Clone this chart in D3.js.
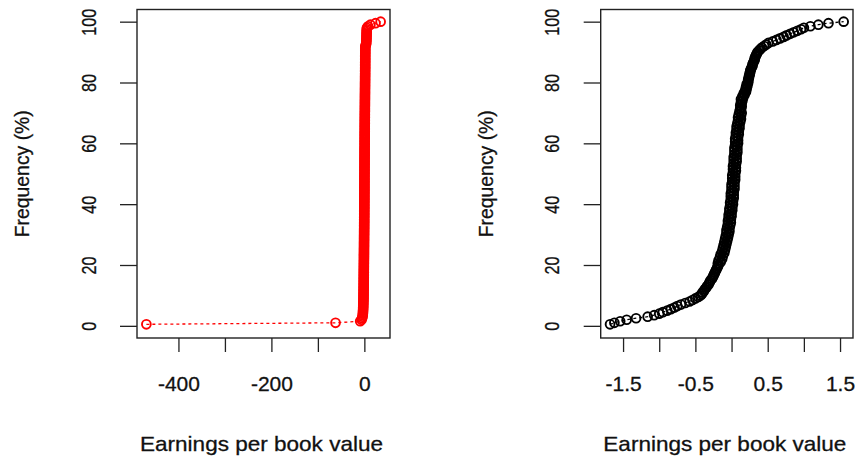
<!DOCTYPE html>
<html>
<head>
<meta charset="utf-8">
<script src="https://cdn.jsdelivr.net/npm/d3@7"></script>
<style>
body { margin: 0; background: #fff }
text { font-family: "Liberation Sans", Arial, sans-serif; fill: #111; stroke: #111; stroke-width: 0.3px }
</style>
</head>
<body>
<svg id="chart" width="855" height="459"></svg>
<script>
// earnings per book value, one value per 0.5 % of the sample
var leftValues = [
  -469, -62, -9, -6, -5, -4,
  -3.5, -3.2, -3.0, -2.8, -2.6, -2.5, -2.4, -2.3, -2.2, -2.1, -2.0, -1.9, -1.9, -1.8, -1.8, -1.7, -1.7, -1.6,
  -1.6, -1.5, -1.5, -1.5, -1.4, -1.4, -1.4, -1.3, -1.3, -1.3, -1.2, -1.2, -1.2, -1.1, -1.1, -1.1, -1.0, -1.0, -1.0, -0.9,
  -0.9, -0.9, -0.9, -0.8, -0.8, -0.8, -0.8, -0.7, -0.7, -0.7, -0.7, -0.6, -0.6, -0.6, -0.6, -0.5, -0.5, -0.5, -0.5, -0.4,
  -0.4, -0.4, -0.4, -0.3, -0.3, -0.3, -0.3, -0.2, -0.2, -0.2, -0.2, -0.2, -0.1, -0.1, -0.1, -0.1, -0.1, 0.0, 0.0, 0.0,
  0.0, 0.0, 0.0, 0.1, 0.1, 0.1, 0.1, 0.1, 0.1, 0.2, 0.2, 0.2, 0.2, 0.2, 0.2, 0.3, 0.3, 0.3, 0.3, 0.3,
  0.3, 0.4, 0.4, 0.4, 0.4, 0.4, 0.4, 0.5, 0.5, 0.5, 0.5, 0.5, 0.5, 0.6, 0.6, 0.6, 0.6, 0.6, 0.7, 0.7,
  0.7, 0.7, 0.7, 0.8, 0.8, 0.8, 0.8, 0.8, 0.9, 0.9, 0.9, 0.9, 1.0, 1.0, 1.0, 1.0, 1.1, 1.1, 1.1, 1.1,
  1.2, 1.2, 1.2, 1.2, 1.3, 1.3, 1.3, 1.3, 1.4, 1.4, 1.4, 1.4, 1.5, 1.5, 1.5, 1.5, 1.6, 1.6, 1.6, 1.6,
  1.7, 1.7, 1.7, 1.7, 1.8, 1.8, 1.8, 1.8, 1.8, 1.9, 1.9, 1.9, 1.9, 1.9, 2.0, 2.0, 2.0, 2.0, 2.1, 2.1,
  3.6, 4.0, 4.2, 4.4, 4.5, 4.6, 4.7, 4.8, 4.9, 5.0, 5.2, 5.6, 8, 13, 24, 35
]

// same for the trimmed sample; the wide middle of the band is read at both of its edges
var rightValues = [
  -1.68, -1.62, -1.54, -1.45, -1.32, -1.16, -1.07, -1.00, -0.95, -0.89, -0.84, -0.79, -0.75, -0.70, -0.64, -0.58, -0.54, -0.50, -0.46, -0.43,
  -0.41, -0.40, -0.38, -0.37, -0.35, -0.34, -0.32, -0.31, -0.30, -0.29, -0.27, -0.26, -0.25, -0.24, -0.23, -0.22, -0.21, -0.20, -0.19, -0.18,
  -0.19, -0.15, -0.18, -0.13, -0.16, -0.12, -0.15, -0.10, -0.13, -0.09, -0.12, -0.08, -0.11, -0.07, -0.10, -0.06, -0.09, -0.05, -0.08, -0.04,
  -0.07, -0.03, -0.07, -0.03, -0.06, -0.02, -0.05, -0.01, -0.05, -0.01, -0.04, 0.00, -0.04, 0.00, -0.03, 0.01, -0.03, 0.01, -0.02, 0.02,
  -0.02, 0.02, -0.01, 0.03, -0.01, 0.03, -0.01, 0.03, 0.00, 0.04, 0.00, 0.04, 0.00, 0.04, 0.01, 0.05, 0.01, 0.05, 0.01, 0.05,
  0.02, 0.06, 0.02, 0.06, 0.02, 0.06, 0.03, 0.07, 0.03, 0.07, 0.03, 0.07, 0.04, 0.08, 0.04, 0.08, 0.04, 0.08, 0.05, 0.09,
  0.05, 0.09, 0.05, 0.09, 0.06, 0.10, 0.06, 0.10, 0.07, 0.11, 0.07, 0.11, 0.08, 0.12, 0.09, 0.13, 0.09, 0.13, 0.10, 0.14,
  0.11, 0.13, 0.12, 0.14, 0.12, 0.14, 0.13, 0.15, 0.13, 0.16, 0.15, 0.18, 0.17, 0.20, 0.19, 0.21, 0.20, 0.22, 0.21, 0.23,
  0.23, 0.23, 0.24, 0.24, 0.25, 0.25, 0.26, 0.26, 0.27, 0.28, 0.29, 0.29, 0.30, 0.31, 0.32, 0.32, 0.33, 0.34, 0.35, 0.36,
  0.38, 0.40, 0.42, 0.45, 0.48, 0.51, 0.57, 0.62, 0.67, 0.72, 0.76, 0.81, 0.86, 0.91, 0.96, 1.00, 1.09, 1.20, 1.34, 1.55
]

var leftTicks = [-400, -300, -200, -100, 0]
var leftTickLabels = ["-400", "", "-200", "", "0"]
var rightTicks = [-1.5, -1, -0.5, 0, 0.5, 1, 1.5]
var rightTickLabels = ["-1.5", "", "-0.5", "", "0.5", "", "1.5"]
var yTicks = [0, 20, 40, 60, 80, 100]
var xTitle = "Earnings per book value"
var yTitle = "Frequency (%)"

var svg = d3.select("#chart")
var fontSize = 21

// R style range: data extent stretched by 4% on each side
function padded(ext) {
  var d = (ext[1] - ext[0]) * 0.04
  return [ext[0] - d, ext[1] + d]
}

function panel(values, color, box, ticks, tickLabels) {
  var n = values.length
  var data = values.map(function(v, i) {
    return {x: v, y: (i + 1) / n * 100}
  })

  var x = d3.scaleLinear()
    .domain(padded(d3.extent(data, function(d) { return d.x })))
    .range([box.left, box.right])
  var y = d3.scaleLinear()
    .domain(padded([0, 100]))
    .range([box.bottom, box.top])

  var g = svg.append("g")

  // x axis
  var xAxis = g.append("g")
    .attr("transform", "translate(0," + box.bottom + ")")
    .call(d3.axisBottom(x)
      .tickValues(ticks)
      .tickSize(14)
      .tickPadding(24)
      .tickFormat(function(d, i) { return tickLabels[i] }))
  xAxis.select(".domain").remove()
  xAxis.selectAll("line").attr("stroke", "#222").attr("stroke-width", 1.3)
  xAxis.selectAll("text")
    .attr("font-size", fontSize)
    .attr("font-family", null)
    .attr("fill", "#111")

  // y axis, labels parallel to the axis like R's las = 0
  var yAxis = g.append("g")
    .attr("transform", "translate(" + box.left + ",0)")
    .call(d3.axisLeft(y).tickValues(yTicks).tickSize(17))
  yAxis.select(".domain").remove()
  yAxis.selectAll("line").attr("stroke", "#222").attr("stroke-width", 1.3)
  yAxis.selectAll("text")
    .attr("font-size", fontSize)
    .attr("font-family", null)
    .attr("fill", "#111")
    .attr("text-anchor", "middle")
    .attr("x", null)
    .attr("dy", "0.35em")
    .attr("textLength", function(d) { return String(d).length * 9 })
    .attr("lengthAdjust", "spacingAndGlyphs")
    .attr("transform", "translate(-48.7,0) rotate(-90)")

  // line + points (type = "o")
  var line = d3.line()
    .x(function(d) { return x(d.x) })
    .y(function(d) { return y(d.y) })

  g.append("path")
    .datum(data)
    .attr("d", line)
    .attr("fill", "none")
    .attr("stroke", color)
    .attr("stroke-width", 1.3)
    .attr("stroke-dasharray", "3,3")

  g.selectAll("circle")
    .data(data)
    .join("circle")
    .attr("cx", function(d) { return x(d.x) })
    .attr("cy", function(d) { return y(d.y) })
    .attr("r", 4.4)
    .attr("fill", "none")
    .attr("stroke", color)
    .attr("stroke-width", 1.9)

  // box
  g.append("rect")
    .attr("x", box.left)
    .attr("y", box.top)
    .attr("width", box.right - box.left)
    .attr("height", box.bottom - box.top)
    .attr("fill", "none")
    .attr("stroke", "#222")
    .attr("stroke-width", 1.4)

  // titles
  g.append("text")
    .attr("x", (box.left + box.right) / 2 - 2)
    .attr("y", 451)
    .attr("text-anchor", "middle")
    .attr("font-size", fontSize)
    .attr("textLength", 243)
    .attr("lengthAdjust", "spacingAndGlyphs")
    .text(xTitle)

  g.append("text")
    .attr("transform", "translate(" + (box.left - 115.5) + "," + ((box.top + box.bottom) / 2) + ") rotate(-90)")
    .attr("dy", "0.35em")
    .attr("text-anchor", "middle")
    .attr("font-size", fontSize)
    .attr("textLength", 127)
    .attr("lengthAdjust", "spacingAndGlyphs")
    .text(yTitle)
}

panel(leftValues, "#ff0000", {left: 137, right: 390, top: 9.5, bottom: 338}, leftTicks, leftTickLabels)
panel(rightValues, "#000000", {left: 600.7, right: 853, top: 9.5, bottom: 338}, rightTicks, rightTickLabels)
</script>
</body>
</html>
